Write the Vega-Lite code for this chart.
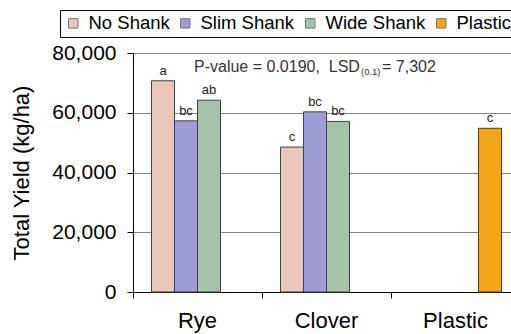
{
  "$schema": "https://vega.github.io/schema/vega-lite/v6.json",
  "width": 378,
  "height": 239,
  "autosize": {"type": "none"},
  "padding": {"left": 133, "top": 53, "right": 0, "bottom": 42},
  "background": "white",
  "config": {"font": "Liberation Sans", "view": {"stroke": null}},
  "data": {
    "values": [
      {"cover": "Rye", "treatment": "No Shank", "yield": 70700, "letter": "a"},
      {"cover": "Rye", "treatment": "Slim Shank", "yield": 57300, "letter": "bc"},
      {"cover": "Rye", "treatment": "Wide Shank", "yield": 64200, "letter": "ab"},
      {"cover": "Clover", "treatment": "No Shank", "yield": 48500, "letter": "c"},
      {"cover": "Clover", "treatment": "Slim Shank", "yield": 60300, "letter": "bc"},
      {"cover": "Clover", "treatment": "Wide Shank", "yield": 57100, "letter": "bc"},
      {"cover": "Plastic", "treatment": "Plastic", "yield": 54800, "letter": "c"}
    ]
  },
  "layer": [
    {
      "mark": {"type": "bar", "stroke": "#404040", "strokeWidth": 1},
      "encoding": {
        "x": {
          "field": "cover", "type": "nominal",
          "sort": ["Rye", "Clover", "Plastic"],
          "scale": {"domain": ["Rye", "Clover", "Plastic"], "range": [0, 387], "paddingInner": 0, "paddingOuter": 0},
          "axis": {"title": null, "labelAngle": 0, "labelFontSize": 22, "labelColor": "black", "labelPadding": 12, "tickSize": 6, "tickColor": "black", "domainColor": "black", "bandPosition": 0, "grid": false}
        },
        "xOffset": {
          "field": "treatment", "type": "nominal",
          "scale": {"domain": ["No Shank", "Slim Shank", "Wide Shank", "Plastic"], "paddingInner": 0, "paddingOuter": 0.804}
        },
        "y": {
          "field": "yield", "type": "quantitative",
          "scale": {"domain": [0, 80000], "nice": false},
          "axis": {"title": "Total Yield (kg/ha)", "values": [0, 20000, 40000, 60000, 80000], "format": ",.0f", "labelFontSize": 21, "labelColor": "black", "labelPadding": 11, "tickSize": 6, "tickColor": "black", "domainColor": "black", "grid": true, "gridColor": "#808080", "gridWidth": 1, "titleFontSize": 22, "titleFontWeight": "normal", "titleColor": "black", "titlePadding": 18}
        },
        "color": {
          "field": "treatment", "type": "nominal",
          "scale": {"domain": ["No Shank", "Slim Shank", "Wide Shank", "Plastic"], "range": ["#e8c6bc", "#9e9cd8", "#a6c2aa", "#f5a418"]},
          "legend": {"orient": "none", "legendX": -73, "legendY": -43, "direction": "horizontal", "columns": 4, "title": null, "fillColor": "white", "strokeColor": "black", "padding": 4, "labelFontSize": 18.5, "labelColor": "black", "symbolType": "square", "symbolSize": 90, "symbolStrokeColor": "#777777", "symbolStrokeWidth": 1, "labelOffset": 6, "columnPadding": 6}
        }
      }
    },
    {
      "mark": {"type": "text", "dy": -6, "baseline": "alphabetic", "fontSize": 13, "color": "#222222"},
      "encoding": {
        "x": {"field": "cover", "type": "nominal", "sort": ["Rye", "Clover", "Plastic"]},
        "xOffset": {"field": "treatment", "type": "nominal"},
        "y": {"field": "yield", "type": "quantitative"},
        "text": {"field": "letter"}
      }
    },
    {
      "data": {"values": [{"cover": "Rye", "yield": 73800, "t": "P-value = 0.0190, \u00a0LSD"}]},
      "mark": {"type": "text", "align": "left", "baseline": "alphabetic", "dx": 61, "fontSize": 16, "color": "#333333"},
      "encoding": {
        "x": {"field": "cover", "type": "nominal", "bandPosition": 0},
        "y": {"field": "yield", "type": "quantitative"},
        "text": {"field": "t"}
      }
    },
    {
      "data": {"values": [{"cover": "Rye", "yield": 73800, "t": "(0.1)"}]},
      "mark": {"type": "text", "align": "left", "baseline": "alphabetic", "dx": 228, "dy": 3, "fontSize": 9.5, "color": "#333333"},
      "encoding": {
        "x": {"field": "cover", "type": "nominal", "bandPosition": 0},
        "y": {"field": "yield", "type": "quantitative"},
        "text": {"field": "t"}
      }
    },
    {
      "data": {"values": [{"cover": "Rye", "yield": 73800, "t": "= 7,302"}]},
      "mark": {"type": "text", "align": "left", "baseline": "alphabetic", "dx": 249, "fontSize": 16, "color": "#333333"},
      "encoding": {
        "x": {"field": "cover", "type": "nominal", "bandPosition": 0},
        "y": {"field": "yield", "type": "quantitative"},
        "text": {"field": "t"}
      }
    }
  ]
}
